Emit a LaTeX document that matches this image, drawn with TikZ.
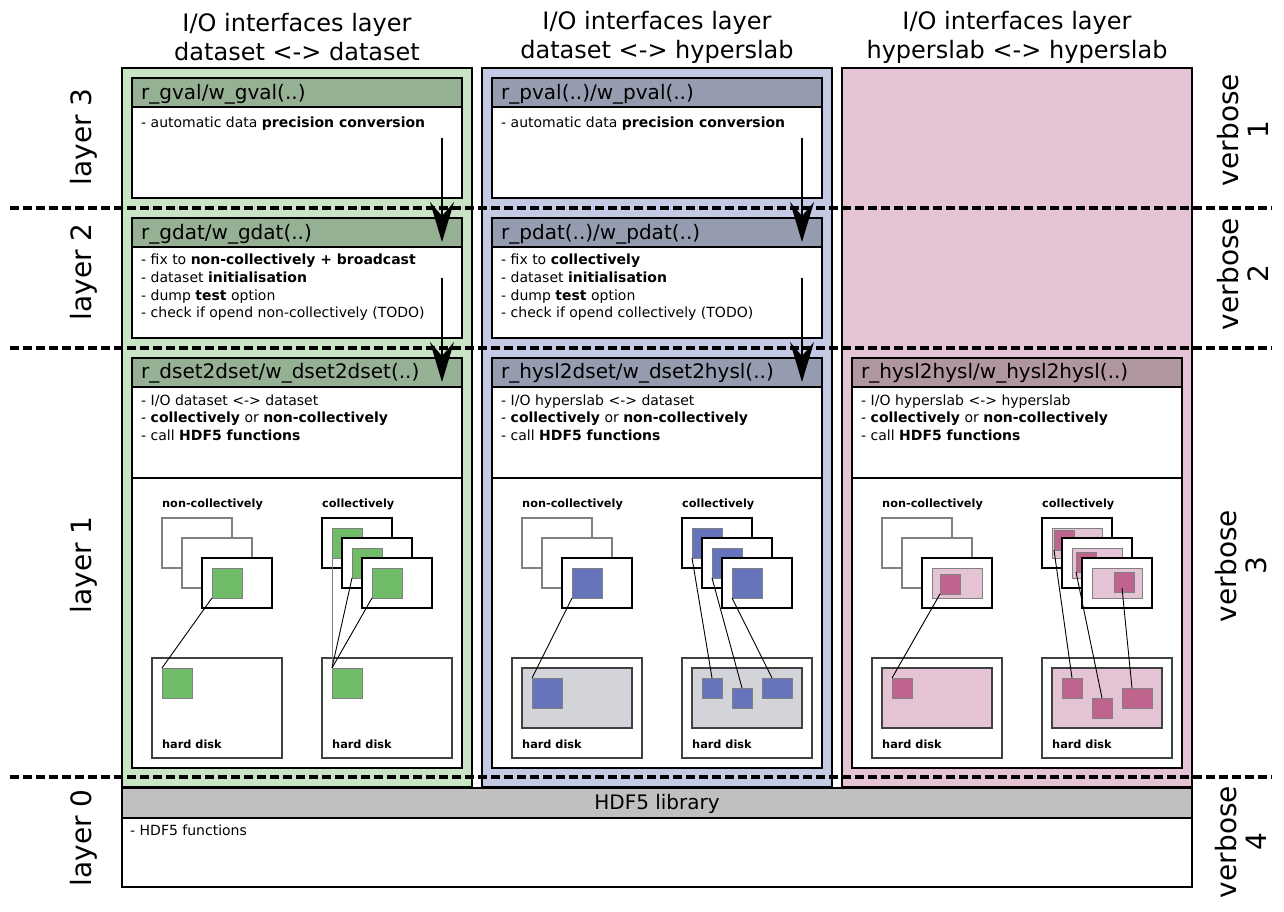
\documentclass[tikz,border=0pt]{standalone}
\usepackage{fontspec}
\setmainfont{DejaVu Sans}
\usetikzlibrary{arrows.meta,calc}

\definecolor{greenbg}{RGB}{200,228,196}
\definecolor{greenhd}{RGB}{150,176,148}
\definecolor{bluebg}{RGB}{196,202,228}
\definecolor{bluehd}{RGB}{150,156,176}
\definecolor{pinkbg}{RGB}{228,196,212}
\definecolor{pinkhd}{RGB}{176,150,158}
\definecolor{greensq}{RGB}{112,188,104}
\definecolor{bluesq}{RGB}{102,116,188}
\definecolor{pinksq}{RGB}{190,100,142}
\definecolor{diskgray}{RGB}{210,212,218}
\definecolor{hdfgray}{RGB}{192,192,192}
\definecolor{framegray}{RGB}{128,128,128}
\definecolor{diskline}{RGB}{64,64,64}

\newcommand\Bx[6]{\node[#6, minimum width=#4, minimum height=#5] (#1) at (#2,#3) {};}

\tikzset{
  bx/.style={draw, anchor=north west, inner sep=0pt, outer sep=0pt},
  colbox/.style={bx, line width=1.5pt},
  hdr/.style={bx, line width=2pt},
  bodybox/.style={bx, fill=white, line width=2pt},
  hdfbox/.style={bx, line width=2.5pt},
  hdtxt/.style={anchor=base west, inner sep=0pt, font=\fontsize{20}{24}\selectfont},
  bdtxt/.style={anchor=base west, inner sep=0pt, font=\fontsize{14}{17}\selectfont},
  smtxt/.style={anchor=base west, inner sep=0pt, font=\fontsize{11.3}{13}\selectfont\bfseries},
  ttl/.style={align=center, inner sep=0pt, font=\fontsize{24}{29}\selectfont},
  lyr/.style={rotate=90, inner sep=0pt, font=\fontsize{28}{30}\selectfont},
  vb/.style={rotate=90, align=center, inner sep=0pt, font=\fontsize{28}{30}\selectfont},
  kframe/.style={bx, fill=white, line width=2pt},
  gframe/.style={bx, fill=white, draw=framegray, line width=1.8pt},
  sq/.style={bx, draw=framegray, line width=0.8pt},
  disk/.style={bx, fill=white, draw=diskline, line width=1.3pt},
  diskin/.style={bx, draw=diskline, line width=1.5pt},
  link/.style={line width=0.9pt},
  sep/.style={line width=3.5pt, dash pattern=on 9pt off 4pt},
  bigarr/.style={line width=2.5pt, -{Stealth[length=40pt,width=24pt,inset=14pt]}}
}

\begin{document}
\begin{tikzpicture}[x=1pt,y=-1pt]
\useasboundingbox (0,0) rectangle (1284,912);
\fill[white] (0,0) rectangle (1284,912);

% titles
\node[ttl] (tt1) at (297,37) {I/O interfaces layer\\dataset <-> dataset};
\node[ttl] (tt2) at (657,37) {I/O interfaces layer\\dataset <-> hyperslab};
\node[ttl] (tt3) at (1017,37) {I/O interfaces layer\\hyperslab <-> hyperslab};

% columns
\Bx{colA}{122}{68}{350}{719}{colbox, fill=greenbg}
\Bx{colB}{482}{68}{350}{719}{colbox, fill=bluebg}
\Bx{colC}{842}{68}{350}{719}{colbox, fill=pinkbg}

% layer separators
\coordinate (s1l) at (10,208); \coordinate (s1r) at (1272,208);
\coordinate (s2l) at (10,348); \coordinate (s2r) at (1272,348);
\coordinate (s3l) at (10,777); \coordinate (s3r) at (1272,777);
\draw[sep] (s1l) -- (s1r);
\draw[sep] (s2l) -- (s2r);
\draw[sep] (s3l) -- (s3r);

% ---------------- column A
\Bx{hA1}{132}{78}{330}{29}{hdr, fill=greenhd}
\Bx{bA1}{132}{107}{330}{91}{bodybox}
\Bx{hA2}{132}{218}{330}{29}{hdr, fill=greenhd}
\Bx{bA2}{132}{247}{330}{91}{bodybox}
\Bx{hA3}{132}{358}{330}{29}{hdr, fill=greenhd}
\Bx{bA3}{132}{387}{330}{91}{bodybox}
\Bx{lA3}{132}{478}{330}{290}{bodybox}

\node[hdtxt] (tA1) at (141,99.5) {r\_gval/w\_gval(..)};
\node[hdtxt] (tA2) at (141,239.5) {r\_gdat/w\_gdat(..)};
\node[hdtxt] (tA3) at (141,378.5) {r\_dset2dset/w\_dset2dset(..)};

\node[bdtxt] (xA11) at (141,127.5) {- automatic data \textbf{precision conversion}};
\node[bdtxt] (xA21) at (141,264.5) {- fix to \textbf{non-collectively + broadcast}};
\node[bdtxt] (xA22) at (141,282.2) {- dataset \textbf{initialisation}};
\node[bdtxt] (xA23) at (141,300) {- dump \textbf{test} option};
\node[bdtxt] (xA24) at (141,317.7) {- check if opend non-collectively (TODO)};
\node[bdtxt] (xA31) at (141,405) {- I/O dataset <-> dataset};
\node[bdtxt] (xA32) at (141,422.7) {- \textbf{collectively} or \textbf{non-collectively}};
\node[bdtxt] (xA33) at (141,440.4) {- call \textbf{HDF5 functions}};

\node[smtxt] (ncA) at (162,507.5) {non-collectively};
\node[smtxt] (cA) at (322,507.5) {collectively};
\Bx{fA1}{162}{518}{70}{50}{gframe}
\Bx{fA2}{182}{538}{70}{50}{gframe}
\Bx{fA3}{202}{558}{70}{50}{kframe}
\Bx{sA}{212}{568}{30}{30}{sq, fill=greensq}
\Bx{dA1}{152}{658}{130}{100}{disk}
\Bx{dsA}{162}{668}{30}{30}{sq, fill=greensq}
\node[smtxt] (hdA1) at (162,748) {hard disk};

\Bx{gA1}{322}{518}{70}{50}{kframe}
\Bx{qA1}{332}{528}{30}{30}{sq, fill=greensq}
\Bx{gA2}{342}{538}{70}{50}{kframe}
\Bx{qA2}{352}{548}{30}{30}{sq, fill=greensq}
\Bx{gA3}{362}{558}{70}{50}{kframe}
\Bx{qA3}{372}{568}{30}{30}{sq, fill=greensq}
\Bx{dA2}{322}{658}{130}{100}{disk}
\Bx{dqA}{332}{668}{30}{30}{sq, fill=greensq}
\node[smtxt] (hdA2) at (332,748) {hard disk};

\draw[link] (sA.south west) -- (dsA.north west);
\draw[link, draw=framegray] (qA1.south west) -- (dqA.north west);
\draw[link] (qA2.south west) -- (dqA.north west);
\draw[link] (qA3.south west) -- (dqA.north west);

% ---------------- column B
\Bx{hB1}{492}{78}{330}{29}{hdr, fill=bluehd}
\Bx{bB1}{492}{107}{330}{91}{bodybox}
\Bx{hB2}{492}{218}{330}{29}{hdr, fill=bluehd}
\Bx{bB2}{492}{247}{330}{91}{bodybox}
\Bx{hB3}{492}{358}{330}{29}{hdr, fill=bluehd}
\Bx{bB3}{492}{387}{330}{91}{bodybox}
\Bx{lB3}{492}{478}{330}{290}{bodybox}

\node[hdtxt] (tB1) at (501,99.5) {r\_pval(..)/w\_pval(..)};
\node[hdtxt] (tB2) at (501,239.5) {r\_pdat(..)/w\_pdat(..)};
\node[hdtxt] (tB3) at (501,378.5) {r\_hysl2dset/w\_dset2hysl(..)};

\node[bdtxt] (xB11) at (501,127.5) {- automatic data \textbf{precision conversion}};
\node[bdtxt] (xB21) at (501,264.5) {- fix to \textbf{collectively}};
\node[bdtxt] (xB22) at (501,282.2) {- dataset \textbf{initialisation}};
\node[bdtxt] (xB23) at (501,300) {- dump \textbf{test} option};
\node[bdtxt] (xB24) at (501,317.7) {- check if opend collectively (TODO)};
\node[bdtxt] (xB31) at (501,405) {- I/O hyperslab <-> dataset};
\node[bdtxt] (xB32) at (501,422.7) {- \textbf{collectively} or \textbf{non-collectively}};
\node[bdtxt] (xB33) at (501,440.4) {- call \textbf{HDF5 functions}};

\node[smtxt] (ncB) at (522,507.5) {non-collectively};
\node[smtxt] (cB) at (682,507.5) {collectively};
\Bx{fB1}{522}{518}{70}{50}{gframe}
\Bx{fB2}{542}{538}{70}{50}{gframe}
\Bx{fB3}{562}{558}{70}{50}{kframe}
\Bx{sB}{572}{568}{30}{30}{sq, fill=bluesq}
\Bx{dB1}{512}{658}{130}{100}{disk}
\Bx{diB1}{522}{668}{110}{60}{diskin, fill=diskgray}
\Bx{dsB}{532}{678}{30}{30}{sq, fill=bluesq}
\node[smtxt] (hdB1) at (522,748) {hard disk};

\Bx{gB1}{682}{518}{70}{50}{kframe}
\Bx{qB1}{692}{528}{30}{30}{sq, fill=bluesq}
\Bx{gB2}{702}{538}{70}{50}{kframe}
\Bx{qB2}{712}{548}{30}{30}{sq, fill=bluesq}
\Bx{gB3}{722}{558}{70}{50}{kframe}
\Bx{qB3}{732}{568}{30}{30}{sq, fill=bluesq}
\Bx{dB2}{682}{658}{130}{100}{disk}
\Bx{diB2}{692}{668}{110}{60}{diskin, fill=diskgray}
\Bx{mB1}{702}{678}{20}{20}{sq, fill=bluesq}
\Bx{mB2}{732}{688}{20}{20}{sq, fill=bluesq}
\Bx{mB3}{762}{678}{30}{20}{sq, fill=bluesq}
\node[smtxt] (hdB2) at (692,748) {hard disk};

\draw[link] (sB.south west) -- (dsB.north west);
\draw[link] (qB1.south west) -- (mB1.north);
\draw[link] (qB2.south west) -- (mB2.north);
\draw[link] (qB3.south west) -- ($(mB3.north west)+(10,0)$);

% ---------------- column C
\Bx{hC3}{852}{358}{330}{29}{hdr, fill=pinkhd}
\Bx{bC3}{852}{387}{330}{91}{bodybox}
\Bx{lC3}{852}{478}{330}{290}{bodybox}

\node[hdtxt] (tC3) at (861,378.5) {r\_hysl2hysl/w\_hysl2hysl(..)};
\node[bdtxt] (xC31) at (861,405) {- I/O hyperslab <-> hyperslab};
\node[bdtxt] (xC32) at (861,422.7) {- \textbf{collectively} or \textbf{non-collectively}};
\node[bdtxt] (xC33) at (861,440.4) {- call \textbf{HDF5 functions}};

\node[smtxt] (ncC) at (882,507.5) {non-collectively};
\node[smtxt] (cC) at (1042,507.5) {collectively};
\Bx{fC1}{882}{518}{70}{50}{gframe}
\Bx{fC2}{902}{538}{70}{50}{gframe}
\Bx{fC3}{922}{558}{70}{50}{kframe}
\Bx{pC}{932}{568}{50}{30}{sq, fill=pinkbg}
\Bx{sC}{940}{574}{20}{20}{sq, fill=pinksq}
\Bx{dC1}{872}{658}{130}{100}{disk}
\Bx{diC1}{882}{668}{110}{60}{diskin, fill=pinkbg}
\Bx{dsC}{892}{678}{20}{20}{sq, fill=pinksq}
\node[smtxt] (hdC1) at (882,748) {hard disk};

\Bx{gC1}{1042}{518}{70}{50}{kframe}
\Bx{pC1}{1052}{528}{50}{30}{sq, fill=pinkbg}
\Bx{qC1}{1054}{530}{20}{20}{sq, fill=pinksq}
\Bx{gC2}{1062}{538}{70}{50}{kframe}
\Bx{pC2}{1072}{548}{50}{30}{sq, fill=pinkbg}
\Bx{qC2}{1076}{552}{20}{20}{sq, fill=pinksq}
\Bx{gC3}{1082}{558}{70}{50}{kframe}
\Bx{pC3}{1092}{568}{50}{30}{sq, fill=pinkbg}
\Bx{qC3}{1114}{572}{20}{20}{sq, fill=pinksq}
\Bx{dC2}{1042}{658}{130}{100}{disk}
\Bx{diC2}{1052}{668}{110}{60}{diskin, fill=pinkbg}
\Bx{mC1}{1062}{678}{20}{20}{sq, fill=pinksq}
\Bx{mC2}{1092}{698}{20}{20}{sq, fill=pinksq}
\Bx{mC3}{1122}{688}{30}{20}{sq, fill=pinksq}
\node[smtxt] (hdC2) at (1052,748) {hard disk};

\draw[link] (sC.south west) -- (dsC.north west);
\draw[link] (qC1.south west) -- (mC1.north);
\draw[link] (qC2.south west) -- (mC2.north);
\draw[link] ($(qC3.south)+(-2,-4)$) -- ($(mC3.north west)+(10,0)$);

% ---------------- arrows
\coordinate (aA1s) at (442,138); \coordinate (aA1e) at (442,242);
\coordinate (aA2s) at (442,278); \coordinate (aA2e) at (442,382);
\coordinate (aB1s) at (802,138); \coordinate (aB1e) at (802,242);
\coordinate (aB2s) at (802,278); \coordinate (aB2e) at (802,382);
\draw[bigarr] (aA1s) -- (aA1e);
\draw[bigarr] (aA2s) -- (aA2e);
\draw[bigarr] (aB1s) -- (aB1e);
\draw[bigarr] (aB2s) -- (aB2e);

% ---------------- HDF5 library
\Bx{hH}{122}{788}{1070}{30}{hdfbox, fill=hdfgray}
\Bx{bH}{122}{818}{1070}{69}{hdfbox, fill=white}
\node[anchor=base, inner sep=0pt, font=\fontsize{20}{24}\selectfont] (tH) at (657,809.5) {HDF5 library};
\node[bdtxt] (xH) at (130,835) {- HDF5 functions};

% ---------------- side labels
\node[lyr] (L3) at (84,137) {layer 3};
\node[lyr] (L2) at (84,272) {layer 2};
\node[lyr] (L1) at (84,565) {layer 1};
\node[lyr] (L0) at (84,838) {layer 0};
\node[vb] (V1) at (1243,130) {verbose\\1};
\node[vb] (V2) at (1243,274) {verbose\\2};
\node[vb] (V3) at (1241,566) {verbose\\3};
\node[vb] (V4) at (1241,842) {verbose\\4};
\end{tikzpicture}
\end{document}
